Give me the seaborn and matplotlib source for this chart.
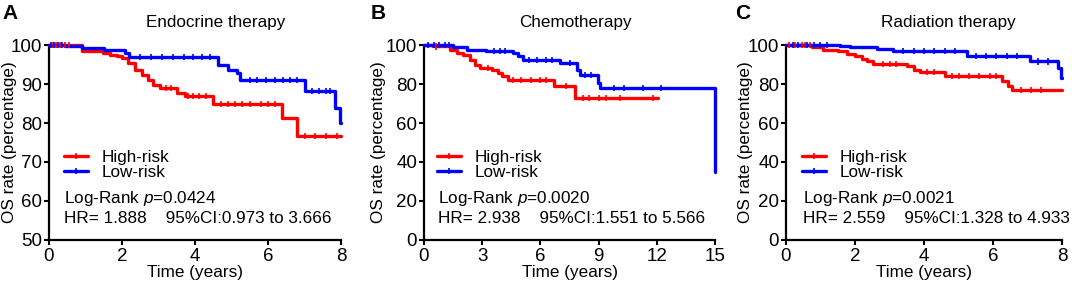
import numpy as np
import pandas as pd
import matplotlib
matplotlib.use("Agg")
import matplotlib.pyplot as plt
import seaborn as sns
from matplotlib.lines import Line2D

# ---------------- data ----------------
groups = ["High-risk", "Low-risk"]
titles = ["Endocrine therapy", "Chemotherapy", "Radiation therapy"]
panel_letters = ["A", "B", "C"]

# Panel A - Endocrine therapy
A_high_t = [0, 0.9, 1.48, 1.67, 1.85, 2.0, 2.16, 2.36, 2.55, 2.72, 2.85, 3.04, 3.5, 3.72, 4.5, 6.38, 6.8, 8.0]
A_high_s = [100, 98.4, 98.0, 97.5, 97.2, 96.7, 95.4, 93.7, 92.4, 91.1, 89.8, 89.0, 87.7, 87.0, 84.9, 81.3, 76.7, 76.7]
A_low_t = [0, 0.44, 0.9, 1.5, 2.08, 2.2, 4.63, 4.9, 5.15, 5.23, 7.0, 7.84, 7.97, 8.0]
A_low_s = [100, 99.7, 99.2, 98.8, 98.0, 97.0, 95.0, 93.7, 92.8, 91.1, 88.3, 83.8, 80.0, 80.0]
A_high_cens = [0.1, 0.2, 0.3, 0.45, 0.55, 3.2, 3.35, 3.8, 3.95, 4.1, 4.3, 4.7, 4.9, 5.1, 5.3, 5.5, 5.8, 6.0, 6.2, 7.0, 7.3, 7.6, 7.9]
A_low_cens = [0.05, 0.15, 0.25, 0.35, 2.5, 2.8, 3.1, 3.4, 3.7, 3.95, 4.2, 4.4, 5.5, 5.7, 5.95, 6.2, 6.4, 6.6, 6.8, 7.2, 7.4, 7.6, 7.7]
A_stats = ("0.0424", "1.888", "0.973", "3.666")

# Panel B - Chemotherapy
B_high_t = [0, 0.47, 1.34, 1.7, 2.0, 2.37, 2.63, 2.9, 3.5, 3.8, 4.0, 4.34, 6.7, 7.8, 12.05]
B_high_s = [100, 99.3, 97.6, 95.9, 95.0, 92.5, 89.9, 88.2, 87.4, 85.6, 84.0, 82.2, 78.8, 72.8, 72.8]
B_low_t = [0, 1.5, 2.2, 3.2, 4.6, 4.85, 5.1, 7.0, 7.9, 8.04, 8.97, 9.07, 15.0]
B_low_s = [100, 98.8, 97.6, 97.0, 95.9, 94.2, 92.5, 90.8, 87.4, 84.8, 80.5, 78.0, 35.0]
B_high_cens = [0.6, 3.3, 4.6, 5.0, 5.5, 6.0, 6.3, 7.3, 8.2, 8.5, 9.0, 9.4, 10.1, 11.8]
B_low_cens = [0.2, 0.5, 0.8, 1.1, 1.3, 3.6, 3.9, 4.2, 5.4, 5.8, 6.3, 6.6, 7.5, 8.3, 8.6, 9.8, 10.3, 11.3, 12.2]
B_stats = ("0.0020", "2.938", "1.551", "5.566")

# Panel C - Radiation therapy
C_high_t = [0, 0.75, 1.07, 1.5, 1.77, 2.0, 2.2, 2.35, 2.52, 3.5, 3.7, 3.88, 4.6, 6.26, 6.43, 6.55, 8.0]
C_high_s = [100, 98.8, 97.6, 96.8, 95.4, 94.2, 93.0, 91.6, 90.2, 89.1, 87.4, 86.0, 84.0, 81.4, 78.8, 77.1, 77.1]
C_low_t = [0, 1.57, 1.86, 2.64, 3.1, 5.24, 7.07, 7.88, 7.97, 8.0]
C_low_s = [100, 99.5, 98.8, 98.1, 96.8, 94.2, 91.6, 88.2, 83.0, 83.0]
C_high_cens = [0.1, 0.25, 0.45, 0.55, 0.7, 2.8, 3.0, 3.2, 4.1, 4.3, 4.8, 5.0, 5.3, 5.6, 5.9, 6.1, 6.8, 7.1, 7.4]
C_low_cens = [0.2, 0.35, 0.6, 0.8, 1.0, 1.2, 3.4, 3.7, 4.0, 4.3, 4.6, 4.9, 5.5, 5.8, 6.1, 6.4, 6.7, 7.3, 7.6]
C_stats = ("0.0021", "2.559", "1.328", "4.933")

# ---------------- style ----------------
sns.set_style("ticks")
plt.rcParams['font.family'] = ['Liberation Sans', 'DejaVu Sans']
plt.rcParams['mathtext.fontset'] = 'custom'
plt.rcParams['mathtext.rm'] = 'Liberation Sans'
plt.rcParams['mathtext.it'] = 'Liberation Sans:italic'
for key in ('text.color', 'axes.labelcolor', 'xtick.color', 'ytick.color', 'axes.edgecolor'):
    plt.rcParams[key] = 'black'

RED = "#ff0000"
BLUE = "#0000ff"
palette = {"High-risk": RED, "Low-risk": BLUE}

panels = [
    dict(ht=A_high_t, hs=A_high_s, lt=A_low_t, ls=A_low_s, hc=A_high_cens, lc=A_low_cens,
         stats=A_stats, xlim=(0, 8), xticks=[0, 2, 4, 6, 8], ylim=(50, 100), yticks=[50, 60, 70, 80, 90, 100],
         rect=[0.0457, 0.158, 0.2724, 0.684], title_x=0.572, letter_x=0.002,
         leg_x=0.052, txt_x=0.051, ylab_x=-0.108),
    dict(ht=B_high_t, hs=B_high_s, lt=B_low_t, ls=B_low_s, hc=B_high_cens, lc=B_low_cens,
         stats=B_stats, xlim=(0, 15), xticks=[0, 3, 6, 9, 12, 15], ylim=(0, 100), yticks=[0, 20, 40, 60, 80, 100],
         rect=[0.3955, 0.158, 0.2715, 0.684], title_x=0.522, letter_x=0.346,
         leg_x=0.045, txt_x=0.048, ylab_x=-0.131),
    dict(ht=C_high_t, hs=C_high_s, lt=C_low_t, ls=C_low_s, hc=C_high_cens, lc=C_low_cens,
         stats=C_stats, xlim=(0, 8), xticks=[0, 2, 4, 6, 8], ylim=(0, 100), yticks=[0, 20, 40, 60, 80, 100],
         rect=[0.7332, 0.158, 0.2575, 0.684], title_x=0.59, letter_x=0.686,
         leg_x=0.058, txt_x=0.062, ylab_x=-0.12),
]


def surv_at(times, t_steps, s_steps):
    idx = np.searchsorted(np.asarray(t_steps), np.asarray(times), side="right") - 1
    return np.asarray(s_steps)[idx]


fig = plt.figure(figsize=(10.72, 2.85), dpi=100)

for p, title, letter in zip(panels, titles, panel_letters):
    ax = fig.add_axes(p["rect"])
    df = pd.concat([
        pd.DataFrame({"time": p["ht"], "surv": p["hs"], "group": groups[0]}),
        pd.DataFrame({"time": p["lt"], "surv": p["ls"], "group": groups[1]}),
    ], ignore_index=True)
    sns.lineplot(data=df, x="time", y="surv", hue="group", palette=palette,
                 estimator=None, sort=False, drawstyle="steps-post", linewidth=2.4,
                 legend=False, ax=ax, clip_on=False, zorder=3)
    cdf = pd.concat([
        pd.DataFrame({"time": p["hc"], "surv": surv_at(p["hc"], p["ht"], p["hs"]), "group": groups[0]}),
        pd.DataFrame({"time": p["lc"], "surv": surv_at(p["lc"], p["lt"], p["ls"]), "group": groups[1]}),
    ], ignore_index=True)
    sns.scatterplot(data=cdf, x="time", y="surv", hue="group", palette=palette,
                    marker="|", s=20, linewidth=1.2, legend=False, ax=ax, clip_on=False, zorder=4)

    ax.set_xlim(*p["xlim"])
    ax.set_ylim(*p["ylim"])
    ax.set_xticks(p["xticks"])
    ax.set_yticks(p["yticks"])
    sns.despine(ax=ax)
    for sp in ("left", "bottom"):
        ax.spines[sp].set_linewidth(1.6)
        ax.spines[sp].set_color("black")
    ax.tick_params(direction="out", length=3.5, width=1.5, labelsize=13.5, pad=1.5, colors="black")
    ax.tick_params(axis="x", pad=2.5)

    ax.set_xlabel("Time (years)", fontsize=12.3)
    ax.set_ylabel("OS rate (percentage)", fontsize=12.3)
    ax.xaxis.set_label_coords(0.5, -0.13)
    ax.yaxis.set_label_coords(p["ylab_x"], 0.5)

    ax.text(p["title_x"], 1.118, title, transform=ax.transAxes, ha="center", va="center", fontsize=12.3)
    fig.text(p["letter_x"], 0.985, letter, fontsize=15, fontweight="bold", va="top", ha="left")

    handles = [Line2D([], [], color=palette[g], lw=2.4, marker="|", ms=4.5, mew=1.2) for g in groups]
    ax.legend(handles, groups, loc="upper left", bbox_to_anchor=(p["leg_x"], 0.46),
              frameon=False, fontsize=12.3, handlelength=1.4, handletextpad=0.8,
              labelspacing=0.0, borderpad=0, borderaxespad=0)

    pv, hr, lo, hi = p["stats"]
    ax.text(p["txt_x"], 0.213, f"Log-Rank $p$={pv}",
            transform=ax.transAxes, ha="left", va="center", fontsize=12.3)
    ax.text(p["txt_x"], 0.108, f"HR= {hr}    95%CI:{lo} to {hi}",
            transform=ax.transAxes, ha="left", va="center", fontsize=12.3)

fig.savefig("out.png", dpi=100)
